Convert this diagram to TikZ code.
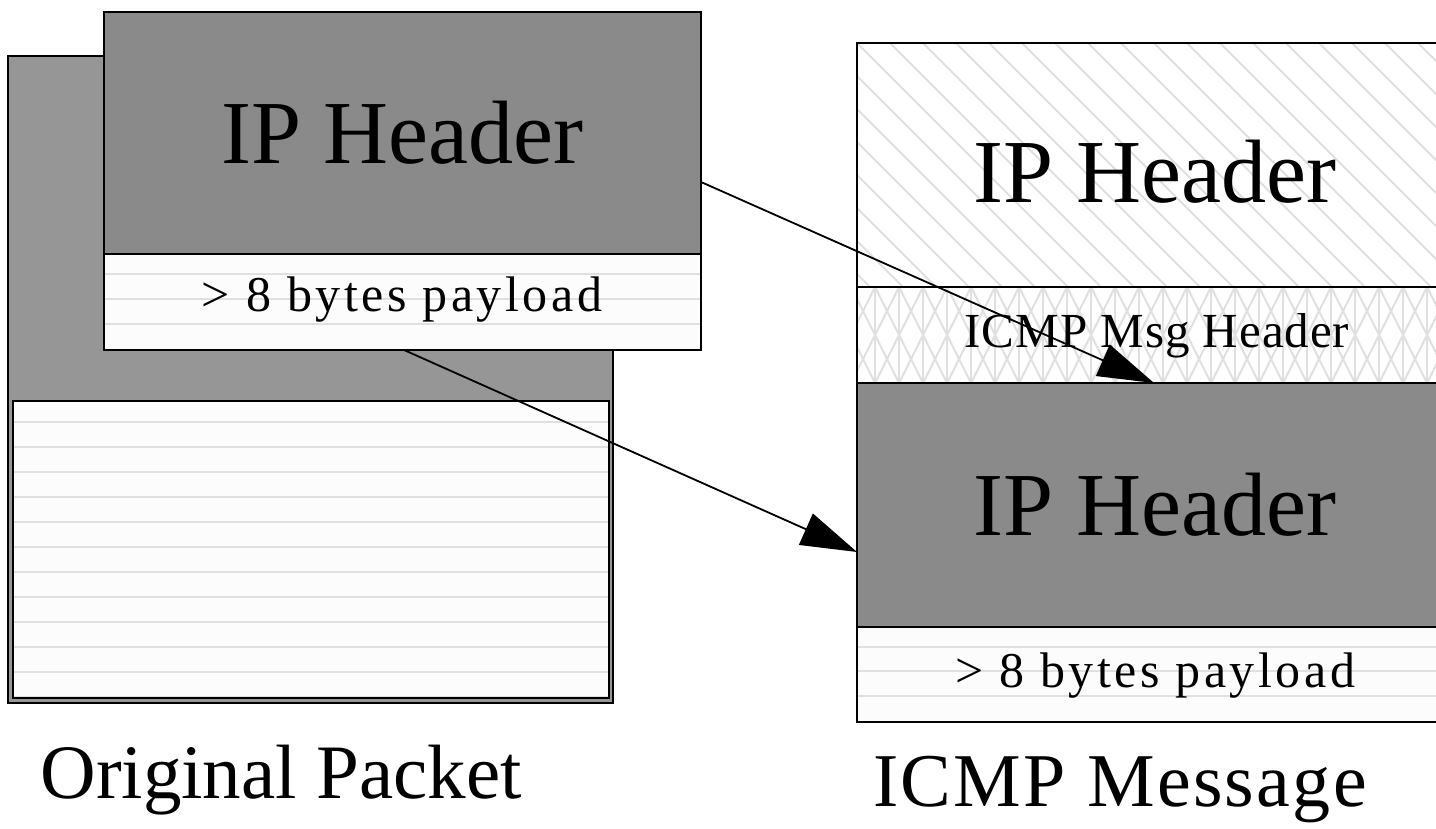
\documentclass[tikz,border=0pt]{standalone}
\usepackage{fontspec}
\setmainfont{Liberation Serif}
\usetikzlibrary{arrows.meta}
\definecolor{outergray}{HTML}{969696}
\definecolor{hdrgray}{HTML}{8A8A8A}
\definecolor{hatchc}{HTML}{E0E0E0}
\definecolor{paper}{HTML}{FCFCFC}
\begin{document}
\begin{tikzpicture}[x=0.5pt,y=-0.5pt,
  box/.style={inner sep=0pt, outer sep=0pt},
  border/.style={draw=black, line width=1.2pt},
  hline/.style={draw=hatchc, line width=1pt},
  bigtxt/.style={font=\fontsize{45}{50}\selectfont},
  midtxt/.style={font=\fontsize{25}{28}\selectfont\addfontfeature{LetterSpace=7}},
  smalltxt/.style={font=\fontsize{24.5}{26}\selectfont\addfontfeature{LetterSpace=2}},
  lbl/.style={font=\fontsize{38.5}{42}\selectfont},
  arr/.style={-{Triangle[length=28pt,width=17pt]}, line width=0.9pt}
]
\clip (0,0) rectangle (1436,829);
\fill[white] (0,0) rectangle (1436,829);

% ---------- Original packet ----------
\node[box, border, fill=outergray, minimum width=302.5pt, minimum height=323.5pt] (opkt) at (310.5,379.5) {};
\node[box, fill=paper, minimum width=298pt, minimum height=148.5pt] (obody) at (311,549.5) {};
\begin{scope}
  \clip (obody.north west) rectangle (obody.south east);
  \foreach \yy in {422,447,...,697} \draw[hline] (0,\yy) -- (1436,\yy);
\end{scope}
\draw[border] (obody.north west) rectangle (obody.south east);

\node[box, border, fill=hdrgray, minimum width=298.5pt, minimum height=121pt, bigtxt] (ohdr) at (402.5,133) {IP Header};
\node[box, fill=paper, minimum width=298.5pt, minimum height=48pt] (opay) at (402.5,302) {};
\begin{scope}
  \clip (opay.north west) rectangle (opay.south east);
  \foreach \yy in {274,299,324} \draw[hline] (0,\yy) -- (1436,\yy);
\end{scope}
\draw[border] (opay.north west) rectangle (opay.south east);
\node[midtxt] (opaytxt) at (402,300) {> 8 bytes payload};

% ---------- ICMP message ----------
\node[box, fill=white, minimum width=298pt, minimum height=122pt] (ihdr) at (1155,165) {};
\begin{scope}
  \clip (ihdr.north west) rectangle (ihdr.south east);
  \foreach \xx in {560,593,...,1460} \draw[hline] (\xx,43) -- ++(260,260);
\end{scope}
\draw[border] (ihdr.north west) rectangle (ihdr.south east);
\node[bigtxt] (ihdrtxt) at (1155,172) {IP Header};

\node[box, fill=white, minimum width=298pt, minimum height=48pt] (imsg) at (1155,335) {};
\begin{scope}
  \clip (imsg.north west) rectangle (imsg.south east);
  \foreach \xx in {851,875,...,1460} \draw[hline] (\xx,280) -- (\xx,390);
  \foreach \xx in {827,851,...,1460} {
    \draw[hline] (\xx,287) -- (\xx+48,383);
    \draw[hline] (\xx+48,287) -- (\xx,383);
  }
\end{scope}
\draw[border] (imsg.north west) rectangle (imsg.south east);
\node[smalltxt] (imsgtxt) at (1157,336) {ICMP Msg Header};

\node[box, border, fill=hdrgray, minimum width=298pt, minimum height=122pt, bigtxt] (ihdr2) at (1155,505) {IP Header};

\node[box, fill=paper, minimum width=298pt, minimum height=47.5pt] (ipay) at (1155,674.5) {};
\begin{scope}
  \clip (ipay.north west) rectangle (ipay.south east);
  \foreach \yy in {647,671,696} \draw[hline] (0,\yy) -- (1500,\yy);
\end{scope}
\draw[border] (ipay.north west) rectangle (ipay.south east);
\node[midtxt] (ipaytxt) at (1155,676) {> 8 bytes payload};

% ---------- arrows ----------
\coordinate (a1s) at (701,182);
\coordinate (a1e) at (1154,383);
\coordinate (a2s) at (404,350);
\coordinate (a2e) at (857,552);
\draw[arr] (a1s) -- (a1e);
\draw[arr] (a2s) -- (a2e);

% ---------- labels ----------
\node[lbl] (lorig) at (281,780) {Original Packet};
\node[lbl, font=\fontsize{38}{42}\selectfont\addfontfeature{LetterSpace=3}] (licmp) at (1120,790) {ICMP Message};
\end{tikzpicture}
\end{document}
